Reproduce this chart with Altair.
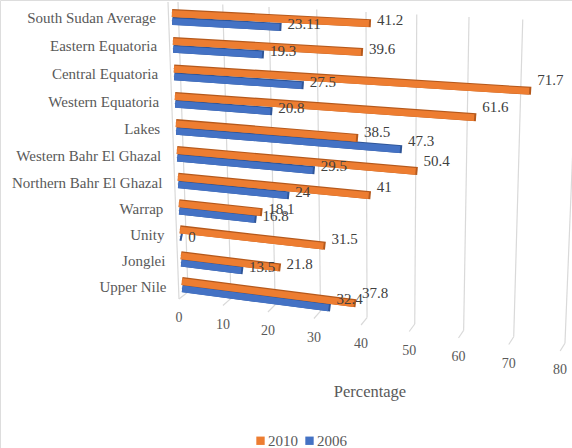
import altair as alt
import pandas as pd

regions = ["South Sudan Average", "Eastern Equatoria", "Central Equatoria", "Western Equatoria",
           "Lakes", "Western Bahr El Ghazal", "Northern Bahr El Ghazal", "Warrap", "Unity",
           "Jonglei", "Upper Nile"]
val_2010 = [41.2, 39.6, 71.7, 61.6, 38.5, 50.4, 41, 18.1, 31.5, 21.8, 37.8]
val_2006 = [23.11, 19.3, 27.5, 20.8, 47.3, 29.5, 24, 16.8, 0, 13.5, 32.4]
ticks = [0, 10, 20, 30, 40, 50, 60, 70, 80]
series_names = ["2010", "2006"]
series_colors = ["#ED7D31", "#4472C4"]
FONT = "Liberation Serif"

rows = []
for i, name in enumerate(regions):
    rows.append({"region": name, "row": i, "pos": i, "value": val_2010[i], "series": "2010"})
    rows.append({"region": name, "row": i, "pos": i + 0.28, "value": val_2006[i], "series": "2006"})
bars = pd.DataFrame(rows)
tick_df = pd.DataFrame({"tick": ticks})
region_df = pd.DataFrame({"region": regions, "row": range(len(regions))})


# Oblique projection of the tilted 3-D plot: (value, row) to canvas pixels.
def px(v, r="datum.pos"):
    return f"(172+{r}+(4.47-0.013*{r})*{v}+(0.0075-0.0002*{r})*{v}*{v})"


def py(v, r="datum.pos", shift=0):
    return f"(13+28*{r}-0.12*{r}*{r}+(0.2375+0.0342*{r})*{v}+{shift})"


T = "datum.tick"
top_x = f"(178+4.4*{T}+0.0075*{T}*{T})"
top_y = f"(2+0.25*{T})"
back_x = f"(188+4.24*{T}+0.0059*{T}*{T})"
back_y = f"(292+0.64*{T})"
front_x = f"(179+4.34*{T}+0.0053*{T}*{T})"
front_y = f"(299+0.65*{T})"

X = alt.X("x:Q", scale=alt.Scale(domain=[0, 572], range=[0, 572]), axis=None)
Y = alt.Y("y:Q", scale=alt.Scale(domain=[0, 448], range=[0, 448]), axis=None)
X2 = alt.X2("x2:Q")
Y2 = alt.Y2("y2:Q")


def segment(df, xa, ya, xb, yb, **mark):
    return (alt.Chart(df).mark_rule(**mark)
            .transform_calculate(x=xa, y=ya, x2=xb, y2=yb)
            .encode(x=X, y=Y, x2=X2, y2=Y2))


GRID = {"color": "#D9D9D9", "strokeWidth": 1.2}
wall = segment(tick_df[tick_df.tick == 0], f"{top_x}-10", top_y, front_x, front_y, **GRID)
grid = segment(tick_df, top_x, top_y, back_x, back_y, **GRID)
floor = segment(tick_df, back_x, back_y, front_x, front_y, **GRID)

# Tiny squares hidden under the bars carry the colour legend.
legend_layer = (alt.Chart(bars).mark_square(size=1, filled=True)
                .transform_calculate(x=px(0), y=py(0))
                .encode(x=X, y=Y,
                        color=alt.Color("series:N",
                                        scale=alt.Scale(domain=series_names, range=series_colors),
                                        legend=alt.Legend(title=None, orient="none", direction="horizontal",
                                                          legendX=253, legendY=433, symbolType="square",
                                                          symbolSize=70, symbolOpacity=1, labelFont=FONT,
                                                          labelFontSize=15, labelColor="#595959",
                                                          columnPadding=4, labelOffset=0, padding=0))))


def bar_layers(series, dark, face):
    d = bars[bars.series == series]
    edge = segment(d, px(0), py(0), f"{px('datum.value')}+2",
                   py("datum.value", shift=0.4), color=dark, strokeWidth=8)
    fill = segment(d, px(0), py(0, shift=0.7), px("datum.value"),
                   py("datum.value", shift=0.7), color=face, strokeWidth=6.8)
    return [edge, fill]


value_labels = (alt.Chart(bars).mark_text(align="left", baseline="middle", font=FONT, fontSize=15,
                                           color="#404040")
                .transform_calculate(
                    x=f"{px('datum.value')}+8",
                    y=(f"{py('datum.value')}-max(min(3,datum.value),"
                       "3.1*(0.05+0.0072*datum.pos)*datum.value-4.3)"),
                    label="format(datum.value,'')")
                .encode(x=X, y=Y, text="label:N"))

region_labels = (alt.Chart(region_df).mark_text(align="right", baseline="middle", font=FONT, fontSize=15,
                                                 color="#595959")
                 .transform_calculate(x="156+1.05*datum.row",
                                      y="18+28.3*datum.row-0.14*datum.row*datum.row")
                 .encode(x=X, y=Y, text="region:N"))

tick_labels = (alt.Chart(tick_df).mark_text(align="center", baseline="middle", font=FONT, fontSize=14,
                                             color="#595959")
               .transform_calculate(x=front_x, y=f"{front_y}+19")
               .encode(x=X, y=Y, text="tick:Q"))

axis_title = (alt.Chart(pd.DataFrame({"title": ["Percentage"]}))
              .mark_text(align="center", baseline="middle", font=FONT, fontSize=16.5, color="#595959")
              .encode(x=alt.value(370), y=alt.value(392), text="title:N"))

chart = (alt.layer(wall, grid, floor, legend_layer,
                   *bar_layers("2006", "#2F5597", "#4472C4"),
                   *bar_layers("2010", "#B5591C", "#ED7D31"),
                   value_labels, region_labels, tick_labels, axis_title)
         .properties(width=572, height=448, padding=0, autosize=alt.AutoSizeParams(type="none"))
         .configure_view(strokeWidth=0, fill="white")
         .configure(background="white"))

chart.save("out.html", embed_options={"renderer": "svg", "actions": False})
